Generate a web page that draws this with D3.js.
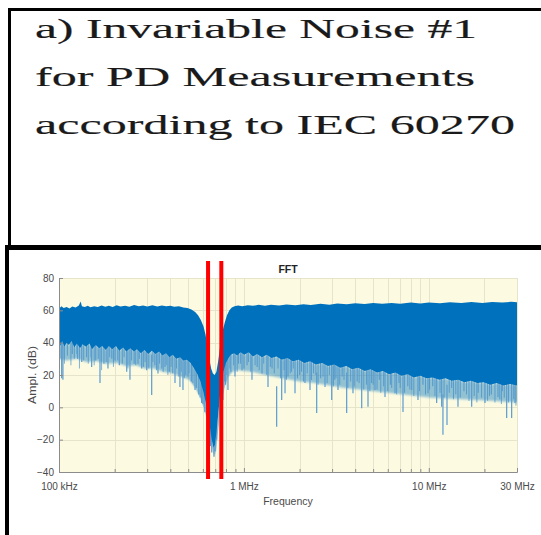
<!DOCTYPE html>
<html>
<head>
<meta charset="utf-8">
<script src="https://cdn.jsdelivr.net/npm/d3@7"></script>
<style>
  html, body { margin: 0; padding: 0; background: #ffffff; }
  svg { display: block; }
</style>
</head>
<body>
<svg id="fig" width="541" height="535"></svg>
<script>
// ---- heading text -------------------------------------------------------
const headingLines = [
  "a) Invariable Noise #1",
  "for PD Measurements",
  "according to IEC 60270"
];

// ---- axis ticks ----------------------------------------------------------
const xTickValues = [1e5, 1e6, 1e7, 3e7];
const xTickLabels = ["100 kHz", "1 MHz", "10 MHz", "30 MHz"];
const yTickValues = [-40, -20, 0, 20, 40, 60, 80];

// ---- FFT spectrum, [frequency kHz, amplitude dB] --------------------------
// top edge of the dense spectrum band
const upperEnvelope = [
  [100,61],[103,62.5],[106,61.5],[110,62],[114,61.2],[118,62.4],[123,61.8],[128,63],
  [131,65.5],[133,62.5],[138,62],[143,62.8],[148,61.9],[155,62.6],[162,62],[170,63],
  [178,62.2],[186,62.8],[195,62.1],[205,63.2],[215,62.4],[228,62.9],[240,62.2],[255,63.3],
  [270,62.5],[285,63],[300,62.3],[320,63.1],[340,62.4],[360,63],[380,62.6],[400,62.9],
  [420,62.2],[445,62.5],[470,61.8],[495,61.5],[520,60.5],[545,59],[565,57],[585,54],
  [605,50],[620,45],[635,38],[650,30],[665,24],[680,21],[695,20],[710,22],[725,28],
  [740,36],[755,43],[770,48],[790,53],[810,57],[835,60],[860,61.8],[890,62.5],[930,63],
  [980,62.6],[1050,63.2],[1120,62.8],[1200,63.4],[1300,62.9],[1400,63.5],[1550,63],
  [1700,63.6],[1900,63.1],[2100,63.8],[2300,63.3],[2600,64],[2900,63.5],[3200,64.2],
  [3600,63.7],[4000,64.4],[4500,63.9],[5000,64.5],[5600,64],[6300,64.6],[7000,64.1],
  [8000,64.8],[9000,64.3],[10000,64.9],[11500,64.4],[13000,65],[15000,64.5],[17000,65.1],
  [19500,64.6],[22000,65.2],[25000,64.8],[28000,65.3],[30000,65]
];

// lower edge of the dense (solid) part of the band
const bandFloor = [
  [100,43],[101.5,38],[104,41],[107,37.5],[110,40],[113,38.5],[117,41],[121,37],[125,39.5],
  [130,36.5],[134,39],[140,37.5],[146,39.5],[151,36],[158,38.5],[165,36.5],[171,38],
  [179,35.5],[186,38],[194,36],[203,38],[212,35],[222,37],[231,34.5],[243,36.5],[254,34.5],
  [264,36],[277,33.5],[290,35.5],[304,33],[318,35],[332,33],[348,34.5],[362,32],[379,33.5],
  [396,31],[412,32.5],[431,30],[452,31],[470,29],[492,29.5],[515,27.5],[538,24],[560,20.5],
  [582,16],[602,10],[622,3],[640,-4],[655,-12],[670,-20],[685,-25],[698,-23],[712,-14],
  [727,-4],[742,7],[757,15],[775,22],[797,27],[822,30],[850,32.5],[885,33.5],[920,32],
  [960,34],[1005,32.5],[1060,34],[1120,31.5],[1180,33],[1250,31],[1330,32.5],[1410,30.5],
  [1500,31.5],[1600,29.5],[1720,30.5],[1840,28.5],[1980,29.5],[2120,27.5],[2280,28.5],
  [2450,26.5],[2650,27.5],[2850,25.5],[3080,26.5],[3320,24.5],[3580,25.5],[3850,23.5],
  [4150,24.5],[4500,22.5],[4850,23.5],[5250,21.5],[5650,22.5],[6100,20.5],[6600,21.5],
  [7100,19.5],[7700,20.5],[8300,18.5],[9000,19.5],[9700,18],[10500,18.5],[11400,17],
  [12300,18],[13300,16.5],[14400,17],[15600,15.5],[16900,16.5],[18300,15],[19800,15.5],
  [21500,14],[23300,15],[25300,13.5],[27500,14.5],[30000,13.5]
];

// lower edge of the sparse, lighter fringe under the band
const fringeFloor = [
  [100,30],[110,29],[125,30],[140,28],[160,28.5],[180,27],[205,27.5],[230,25.5],[260,26],
  [290,24],[325,24],[365,22],[410,21],[455,19],[505,17],[545,12],[580,6],[610,-1],
  [640,-10],[665,-22],[688,-30],[708,-27],[725,-15],[745,-3],[765,6],[790,13],[825,19],
  [870,22],[930,23],[1000,22.5],[1100,22],[1250,20.5],[1450,19],[1700,17.5],[2000,16],
  [2400,15],[2900,13.5],[3500,12],[4200,11],[5000,10],[6000,9],[7200,8],[8600,7],
  [10300,6],[12400,5.5],[15000,5],[18000,4.5],[21500,4],[25500,3.5],[30000,3]
];

// short dips forming the fringe texture
const fringeDips = [
  [101,30],[107,27],[111,32],[116,26],[121,30],[125,33],[129,24],[136,29],[144,27],[149,31],
  [155,26],[163,30],[170,23],[180,28],[188,31],[197,25],[208,29],[220,27],[225,31],[236,24],
  [247,29],[260,26],[272,30],[286,25],[292,28],[306,24],[322,28],[337,23],[350,27],[366,22],
  [380,26],[388,20],[404,25],[412,21],[432,24],[445,19],[458,22],[476,18],[505,21],[530,15],
  [555,12],[580,6],[600,2],[785,16],[810,20],[840,24],[880,26],[920,22],[960,27],[1000,24],
  [1060,28],[1090,22],[1150,26],[1210,23],[1280,27],[1330,20],[1390,25],[1460,21],[1530,24],
  [1580,18],[1650,23],[1700,17],[1780,21],[1850,24],[1950,18],[2050,22],[2100,16],[2200,21],
  [2320,17],[2450,20],[2520,14],[2680,19],[2820,15],[2900,20],[3050,13],[3150,18],[3300,14],
  [3480,17],[3650,12],[3780,16],[3950,13],[4200,15],[4450,11],[4600,14],[4800,10],[5000,14],
  [5250,11],[5500,9],[5700,13],[6000,10],[6300,12],[6700,8],[7000,12],[7400,9],[7900,11],
  [8300,7],[8900,10],[9600,8],[10100,11],[10800,7],[11500,9],[12100,6],[12900,9],[13600,5],
  [14000,8],[14800,6],[16000,8],[16500,4],[17600,7],[18200,3],[19300,6],[20800,4],[21300,7],
  [22800,3],[24200,5],[24700,2],[25600,6],[27000,3],[28800,5],[29600,1]
];

// isolated deep dips reaching below the fringe
const dips = [
  [103.4,18],[105,17],[118,33],[126,30],[132.7,28],[141,31],[150.2,25],[158,29],
  [166.6,15],[175,27],[184,24],[193,30],[200.9,29],[212,26],[232.4,22],[242,17],
  [255,27],[267.5,27],[280,24],[298,23],[317.2,7.6],[330,26],[343,21],[360,24],
  [374.4,25],[395,22],[424,15],[451,12.6],[468.3,10.7],[485,20],[498.5,19],[520,16],
  [544,10.7],[570,8],[591,2.7],[615,-3],[660,-24],[669.9,-28],[689,-30.6],[698,-27],
  [712,-20],[771,4.5],[795,14],[820,10.7],[850,22],[895,19],[935,27],[977,23],
  [1040,26],[1106,17],[1180,25],[1253,21],[1350,12.6],[1420,24],[1504,-12],[1601,4.5],
  [1669,8.7],[1732,19],[1810,22],[1890,8.7],[2000,20],[2140,15],[2278,10.7],[2380,21],
  [2476,-3.5],[2600,18],[2746,12.6],[2985,4.5],[3100,17],[3228,10.7],[3400,19],[3597,-3.5],
  [3890,8.7],[4100,16],[4337,-0.5],[4691,0.4],[4900,15],[5117,10.7],[5400,17],[5797,6.4],
  [6200,14],[6565,8.7],[6900,15],[7254,-2.9],[7700,13],[8084,10.7],[8741,4.5],[9300,14],
  [9901,8.7],[10500,13],[11030,2.7],[11740,0.4],[11930,-17],[12545,-11],[13300,12],
  [14385,0.4],[15500,10],[17060,0.4],[18500,9],[20137,2.7],[21800,8],[23680,6.4],
  [25000,10],[26380,-6.6],[28070,-6.6],[29260,2.7]
];

// red markers bracketing the notch, kHz
const notchMarkers = [640, 755];

// ---- drawing --------------------------------------------------------------
const svg = d3.select("#fig");
svg.append("rect").attr("width", 541).attr("height", 535).attr("fill", "#ffffff");

// panel frames
const frame = svg.append("g").attr("fill", "#000");
frame.append("rect").attr("x", 8).attr("y", 8).attr("width", 533).attr("height", 3);
frame.append("rect").attr("x", 8).attr("y", 8).attr("width", 3).attr("height", 238);
frame.append("rect").attr("x", 5).attr("y", 245).attr("width", 536).attr("height", 5);
frame.append("rect").attr("x", 5).attr("y", 245).attr("width", 4).attr("height", 290);

// heading
const headingWidths = [442, 440, 480];
svg.append("g")
  .selectAll("text")
  .data(headingLines)
  .join("text")
  .attr("x", 35)
  .attr("y", (d, i) => 38 + i * 48)
  .attr("textLength", (d, i) => headingWidths[i])
  .attr("lengthAdjust", "spacingAndGlyphs")
  .attr("font-family", "'Liberation Serif', 'Times New Roman', serif")
  .attr("font-size", 28)
  .attr("fill", "#1a1a1a")
  .attr("stroke", "#1a1a1a").attr("stroke-width", 0.15)
  .text(d => d);

// chart
const plot = { left: 59, right: 517, top: 278, bottom: 472 };
const x = d3.scaleLog().domain([1e5, 3e7]).range([plot.left, plot.right]);
const y = d3.scaleLinear().domain([-40, 80]).range([plot.bottom, plot.top]);

svg.append("rect")
  .attr("x", plot.left).attr("y", plot.top)
  .attr("width", plot.right - plot.left).attr("height", plot.bottom - plot.top)
  .attr("fill", "#fcfbe2");

// minor tick positions for the log axis
const minorTicks = [];
[1e5, 1e6, 1e7].forEach(dec => {
  for (let k = 2; k <= 9; k++) if (k * dec <= 3e7) minorTicks.push(k * dec);
});

const grid = svg.append("g").attr("stroke", "#e7e4cc").attr("stroke-width", 1);
grid.selectAll(".gx").data(minorTicks.concat(xTickValues)).join("line")
  .attr("x1", d => Math.round(x(d)) + 0.5).attr("x2", d => Math.round(x(d)) + 0.5)
  .attr("y1", plot.top).attr("y2", plot.bottom);
grid.selectAll(".gy").data(yTickValues).join("line")
  .attr("x1", plot.left).attr("x2", plot.right)
  .attr("y1", d => Math.round(y(d)) + 0.5).attr("y2", d => Math.round(y(d)) + 0.5);

// spectrum
const defs = svg.append("defs");
defs.append("clipPath").attr("id", "plotClip")
  .append("rect")
  .attr("x", plot.left).attr("y", plot.top)
  .attr("width", plot.right - plot.left).attr("height", plot.bottom - plot.top);
defs.append("filter").attr("id", "soft")
  .append("feGaussianBlur").attr("stdDeviation", "0.3 1.2");

const spec = svg.append("g").attr("clip-path", "url(#plotClip)");
const line = d3.line().x(d => x(d[0] * 1e3)).y(d => y(d[1]));

// lighter fringe below the band
spec.append("path")
  .attr("d", line(bandFloor.concat(fringeFloor.slice().reverse())) + "Z")
  .attr("fill", "#0072bd").attr("fill-opacity", 0.42)
  .attr("filter", "url(#soft)");

// fringe texture and the deeper dips (their upper part hides under the band)
spec.selectAll(".hair").data(fringeDips).join("line")
  .attr("x1", d => x(d[0] * 1e3)).attr("x2", d => x(d[0] * 1e3))
  .attr("y1", d => y(d[1] + 25)).attr("y2", d => y(d[1]))
  .attr("stroke", "#2f82c6").attr("stroke-opacity", 0.6).attr("stroke-width", 1);

spec.selectAll(".dip").data(dips).join("line")
  .attr("x1", d => x(d[0] * 1e3)).attr("x2", d => x(d[0] * 1e3))
  .attr("y1", d => y(d[1] + 25)).attr("y2", d => y(d[1]))
  .attr("stroke", "#5a9bd0").attr("stroke-width", 1.2);

// dense band
spec.append("path")
  .attr("d", line(upperEnvelope.concat(bandFloor.slice().reverse())) + "Z")
  .attr("fill", "#0072bd");

// axes
const axisColor = "#8c8c8c";
const xAxis = svg.append("g")
  .attr("transform", `translate(0,${plot.bottom})`)
  .call(d3.axisBottom(x).tickValues(xTickValues)
    .tickFormat((d, i) => xTickLabels[i])
    .tickSizeInner(-4).tickSizeOuter(0).tickPadding(11));
const xMinor = svg.append("g")
  .attr("transform", `translate(0,${plot.bottom})`)
  .call(d3.axisBottom(x).tickValues(minorTicks).tickFormat("")
    .tickSizeInner(-3).tickSizeOuter(0));
const yAxis = svg.append("g")
  .attr("transform", `translate(${plot.left},0)`)
  .call(d3.axisLeft(y).tickValues(yTickValues)
    .tickSizeInner(-4).tickSizeOuter(0).tickPadding(5));

[xAxis, xMinor, yAxis].forEach(g => {
  g.select(".domain").attr("stroke", axisColor);
  g.selectAll(".tick line").attr("stroke", axisColor);
  g.selectAll("text")
    .attr("font-family", "'Liberation Sans', Arial, sans-serif")
    .attr("font-size", 10)
    .attr("fill", "#4a4a4a");
});

// titles
const labelFont = "'Liberation Sans', Arial, sans-serif";
svg.append("text")
  .attr("x", (plot.left + plot.right) / 2).attr("y", 273)
  .attr("text-anchor", "middle")
  .attr("font-family", labelFont).attr("font-size", 10.5).attr("font-weight", "bold")
  .attr("fill", "#222").text("FFT");
svg.append("text")
  .attr("x", (plot.left + plot.right) / 2).attr("y", 505)
  .attr("text-anchor", "middle")
  .attr("font-family", labelFont).attr("font-size", 10.5)
  .attr("fill", "#4a4a4a").text("Frequency");
svg.append("text")
  .attr("transform", `translate(36,${(plot.top + plot.bottom) / 2}) rotate(-90)`)
  .attr("text-anchor", "middle")
  .attr("textLength", 58).attr("lengthAdjust", "spacingAndGlyphs")
  .attr("font-family", labelFont).attr("font-size", 10.5)
  .attr("fill", "#4a4a4a").text("Ampl. (dB)");

// notch markers
svg.append("g").selectAll("line").data(notchMarkers).join("line")
  .attr("x1", d => x(d * 1e3)).attr("x2", d => x(d * 1e3))
  .attr("y1", y(80) - 17).attr("y2", y(-40) + 7)
  .attr("stroke", "#ff0000").attr("stroke-width", 4);
</script>
</body>
</html>
